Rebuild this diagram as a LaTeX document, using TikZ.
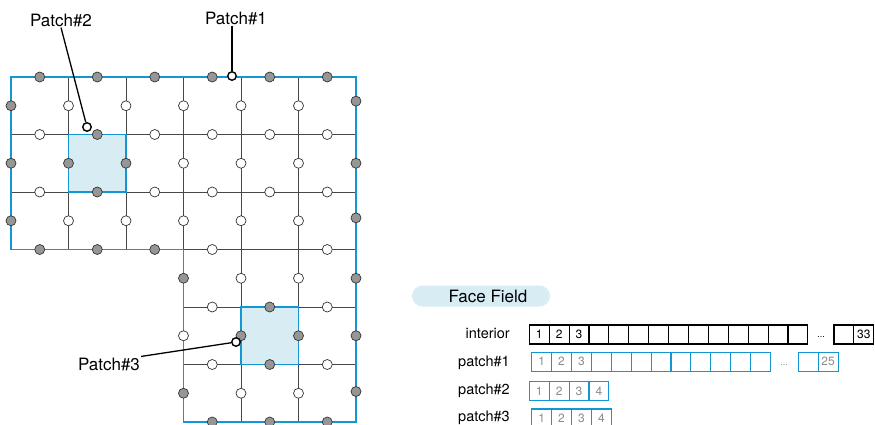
\documentclass[tikz,border=0pt]{standalone}
\usepackage{fontspec}
\setmainfont{TeX Gyre Heros}
\usetikzlibrary{positioning}

\definecolor{bndblue}{RGB}{20,150,210}
\definecolor{patchfill}{RGB}{216,236,244}
\definecolor{facegray}{RGB}{150,150,150}

\begin{document}
\begin{tikzpicture}[x=1pt, y=-1pt,
        % Mesh lines: thin dark grey
        meshline/.style={draw=black!72, line width=0.9pt},
        % Domain and patch outlines: thick blue
        outline/.style={draw=bndblue, line width=1.8pt},
        % Face points: white = interior, grey = on a patch
        inface/.style={circle, draw=black!80, fill=white, line width=0.7pt,
            inner sep=0pt, minimum size=10pt},
        bdface/.style={inface, fill=facegray},
        % Callout ends, labels and leader lines
        pick/.style={circle, draw=black, fill=white, line width=1.4pt,
            inner sep=0pt, minimum size=8.5pt},
        callout/.style={font=\fontsize{17}{20}\selectfont, inner sep=1pt},
        leader/.style={draw=black, line width=1.3pt},
        % Storage arrays of the face field
        fieldtag/.style={rectangle, rounded corners=10.5pt, fill=patchfill,
            minimum width=138pt, minimum height=21pt, inner sep=0pt,
            font=\fontsize{17}{20}\selectfont},
        rowlabel/.style={anchor=base east, inner sep=0pt,
            font=\fontsize{14.5}{17}\selectfont},
        icell/.style={rectangle, draw=black, line width=1.1pt,
            minimum width=19.9pt, minimum height=19pt, inner sep=0pt,
            font=\fontsize{12}{14}\selectfont},
        pcell/.style={icell, draw=bndblue, text=black!45},
        ellip/.style={anchor=base, inner sep=0pt, font=\fontsize{9}{10}\selectfont},
    ]
    \useasboundingbox (0,0) rectangle (875,424);

    % === Mesh (one cell = 57.5px, origin at top left corner) ===
    \begin{scope}[shift={(11,77)}, x=57.5pt, y=-57.5pt]
        % patch cells
        \fill[patchfill] (1,1) rectangle (2,2);
        \fill[patchfill] (4,4) rectangle (5,5);
        % inner mesh lines
        \foreach \k in {1,2}
            \draw[meshline] (0,\k) -- (6,\k);
        \foreach \k in {3,4,5}
            \draw[meshline] (3,\k) -- (6,\k);
        \foreach \k in {1,2,3}
            \draw[meshline] (\k,0) -- (\k,3);
        \foreach \k in {4,5}
            \draw[meshline] (\k,0) -- (\k,6);
        % domain boundary and the two inner patches
        \draw[outline] (0,0) -- (6,0) -- (6,6) -- (3,6) -- (3,3) -- (0,3) -- cycle;
        \draw[outline] (1,1) rectangle (2,2);
        \draw[outline] (4,4) rectangle (5,5);

        % interior faces
        \foreach \p [count=\n] in {
                (1,0.5),(2,0.5),(3,0.5),(4,0.5),(5,0.5),
                (3,1.5),(4,1.5),(5,1.5),
                (1,2.5),(2,2.5),(3,2.5),(4,2.5),(5,2.5),
                (0.5,1),(2.5,1),(3.5,1),(4.5,1),(5.5,1),
                (0.5,2),(2.5,2),(3.5,2),(4.5,2),(5.5,2),
                (3.5,3),(5.5,3),
                (4,3.5),(5,3.5),(3.5,4),(5.5,4),(3,4.5),
                (3.5,5),(5.5,5),(4,5.5),(5,5.5)}
            \node[inface] (f\n) at \p {};

        % patch faces
        \foreach \p [count=\n] in {
                (0.5,0),(1.5,0),(2.5,0),(3.5,0),(4.5,0),(5.5,0),
                (0,0.5),(0,1.5),(0,2.5),
                (0.5,3),(1.5,3),(2.5,3),
                (6,0.42),(6,1.5),(6,2.45),(6,3.5),(6,4.5),(6,5.47),
                (3.5,6),(4.5,6),(5.5,6),
                (3,3.5),(3,5.5),
                (1.5,1),(1,1.5),(2,1.5),(1.5,2),
                (4.5,4),(4,4.5),(5,4.5),(4.5,5)}
            \node[bdface] (b\n) at \p {};
    \end{scope}

    % === Callouts ===
    \node[pick] (pick1) at (232,76) {};
    \node[pick] (pick2) at (87,127) {};
    \node[pick] (pick3) at (236,342) {};
    \node[callout] (lab1) at (236,18) {Patch\#1};
    \node[callout] (lab2) at (61,20) {Patch\#2};
    \node[callout] (lab3) at (109,364) {Patch\#3};
    \draw[leader] (pick1.north |- lab1.south) -- (pick1);
    \draw[leader] (lab2.south) -- (pick2);
    \draw[leader] (lab3.north east) -- (pick3);

    % === Face field storage ===
    \def\cw{19.9}
    \node[fieldtag] (ff) at (481,296) {\hspace*{14pt}Face Field};

    % interior
    \node[rowlabel] (lint) at (510,338.3) {interior};
    \foreach \i in {1,...,14}
        \node[icell] (int\i) at ({529.3+\cw*(\i-0.5)},334.5) {\ifnum\i<4 \i\fi};
    \node[ellip] (intdots) at (821,337.5) {...};
    \node[icell] (int32) at ({834+\cw*0.5},334.5) {};
    \node[icell] (int33) at ({834+\cw*1.5},334.5) {33};

    % patch#1
    \node[rowlabel] (lp1) at (510,366) {patch\#1};
    \foreach \i in {1,...,12}
        \node[pcell] (pa\i) at ({531.7+\cw*(\i-0.5)},361.7) {\ifnum\i<4 \i\fi};
    \node[ellip, text=black!45] (padots) at (784,365.5) {...};
    \node[pcell] (pa24) at ({798.3+\cw*0.5},361.7) {};
    \node[pcell] (pa25) at ({798.3+\cw*1.5},361.7) {25};

    % patch#2
    \node[rowlabel] (lp2) at (510,394.3) {patch\#2};
    \foreach \i in {1,...,4}
        \node[pcell] (pb\i) at ({529.3+\cw*(\i-0.5)},391.2) {\i};

    % patch#3
    \node[rowlabel] (lp3) at (510,421.7) {patch\#3};
    \foreach \i in {1,...,4}
        \node[pcell] (pc\i) at ({531.7+\cw*(\i-0.5)},418.5) {\i};

\end{tikzpicture}
\end{document}
